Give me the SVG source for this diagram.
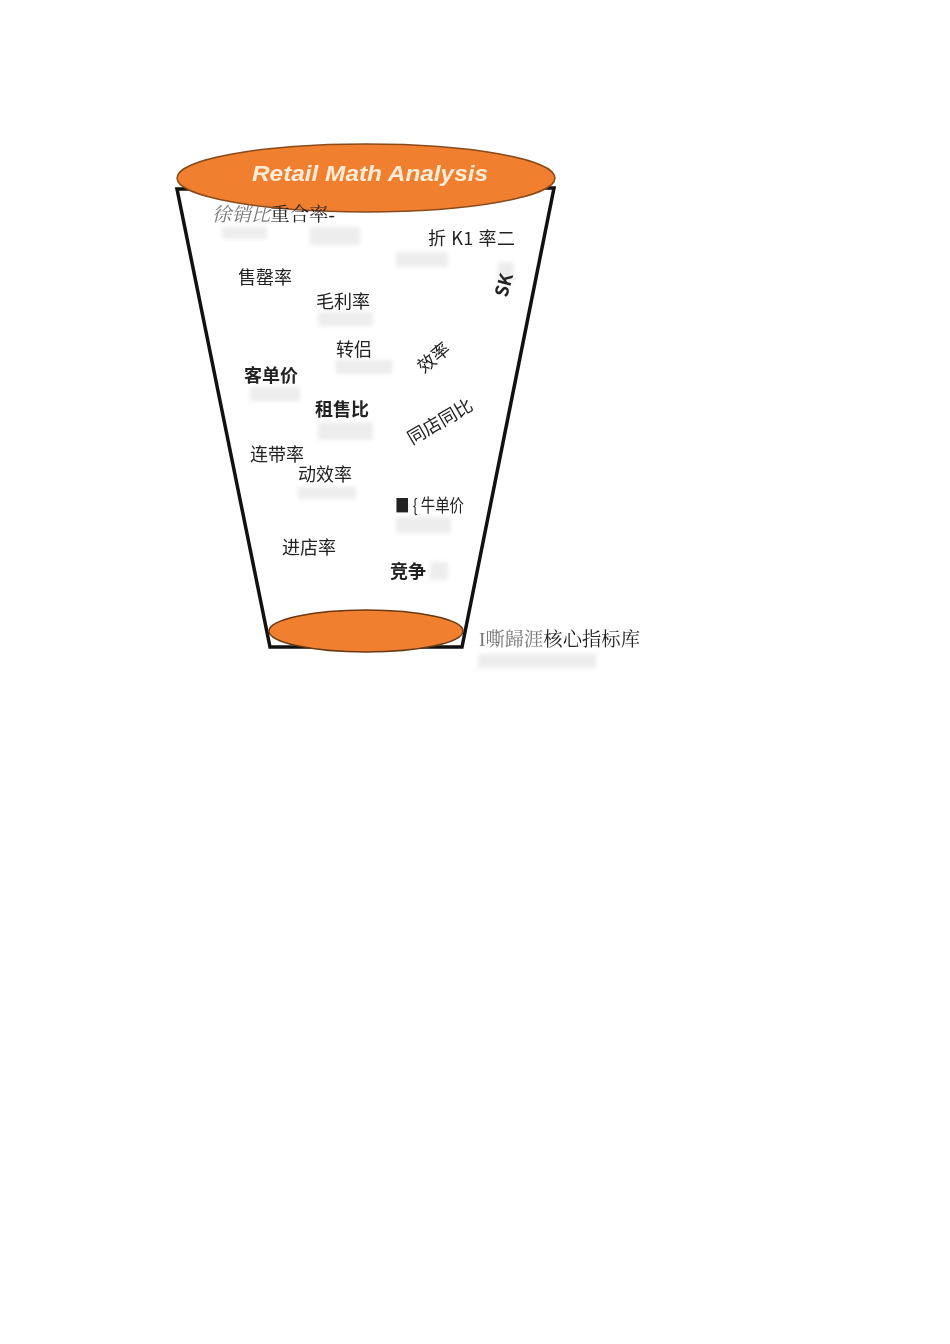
<svg xmlns="http://www.w3.org/2000/svg" width="950" height="1344" viewBox="0 0 950 1344">
<style>
.t{font-family:"Noto Sans CJK SC","Liberation Sans",sans-serif;fill:#222;font-size:18px}
.s{font-family:"Liberation Serif","Noto Serif CJK SC","Noto Sans CJK SC",serif;fill:#222;font-size:19px}
.g{fill:#777}
.b{font-weight:bold}
.sm{fill:#d8d8d8;opacity:0.45}
</style>
<defs>
<filter id="blur" x="-20%" y="-50%" width="140%" height="200%"><feGaussianBlur stdDeviation="2"/></filter>
</defs>
<rect width="950" height="1344" fill="#fff"/>
<g id="cup">
<path d="M177,189 L554,188 L462,647 L270,647 Z" fill="#fff" stroke="#111" stroke-width="3.5" stroke-linejoin="miter"/>
</g>
<g id="smudges" filter="url(#blur)">
<rect class="sm" x="222" y="227" width="45" height="12"/>
<rect class="sm" x="310" y="227" width="50" height="18"/>
<rect class="sm" x="396" y="252" width="52" height="15"/>
<rect class="sm" x="318" y="312" width="55" height="14"/>
<rect class="sm" x="336" y="360" width="56" height="14"/>
<rect class="sm" x="250" y="387" width="50" height="14"/>
<rect class="sm" x="318" y="422" width="55" height="18"/>
<rect class="sm" x="298" y="487" width="58" height="12"/>
<rect class="sm" x="396" y="517" width="55" height="16"/>
<rect class="sm" x="430" y="562" width="18" height="18"/>
<rect class="sm" x="478" y="654" width="118" height="14"/>
<rect class="sm" x="498" y="262" width="16" height="20"/>
</g>
<g id="top-ellipse">
<ellipse cx="366" cy="178" rx="189" ry="34" fill="#F08030" stroke="#8a4a1a" stroke-width="1.5"/>
<text x="370" y="181" text-anchor="middle" font-family="Liberation Sans,sans-serif" font-weight="bold" font-style="italic" font-size="22" fill="#fbecd8" textLength="236" lengthAdjust="spacingAndGlyphs">Retail Math Analysis</text>
</g>
<g id="bottom-ellipse">
<ellipse cx="366" cy="631" rx="97" ry="21" fill="#F08030" stroke="#6a3a14" stroke-width="1.5"/>
</g>
<g id="labels">
<text class="s" x="212" y="221" textLength="123" lengthAdjust="spacingAndGlyphs"><tspan class="g" font-style="italic">徐销比</tspan>重合率-</text>
<text class="t" x="428" y="245" textLength="87" lengthAdjust="spacing">折 K1 率二</text>
<text class="t" x="238" y="284">售罄率</text>
<text class="t" x="316" y="308">毛利率</text>
<text class="t" x="336" y="356" font-size="19.5">转侣</text>
<text class="t b" x="244" y="382" font-size="16" fill="#111">客单价</text>
<text class="t" x="0" y="0" font-size="17" transform="translate(424,374) rotate(-40)">效率</text>
<text class="t b" x="0" y="0" font-size="16" transform="translate(507,298) rotate(-75)">SK</text>
<text class="t b" x="315" y="416" font-size="16" fill="#111">租售比</text>
<text class="t" x="0" y="0" font-size="17" transform="translate(412,445) rotate(-30)">同店同比</text>
<text class="t" x="250" y="461">连带率</text>
<text class="t" x="298" y="481" font-size="19">动效率</text>
<text class="t" x="395" y="512" font-size="13" fill="#111" textLength="69" lengthAdjust="spacingAndGlyphs">■ { 牛单价</text>
<text class="t" x="282" y="554">进店率</text>
<text class="t b" x="390" y="578" font-size="17">竞争</text>
<text class="s" x="479" y="646" textLength="161" lengthAdjust="spacingAndGlyphs"><tspan class="g">I嘶歸涯</tspan>核心指标库</text>
</g>
</svg>
